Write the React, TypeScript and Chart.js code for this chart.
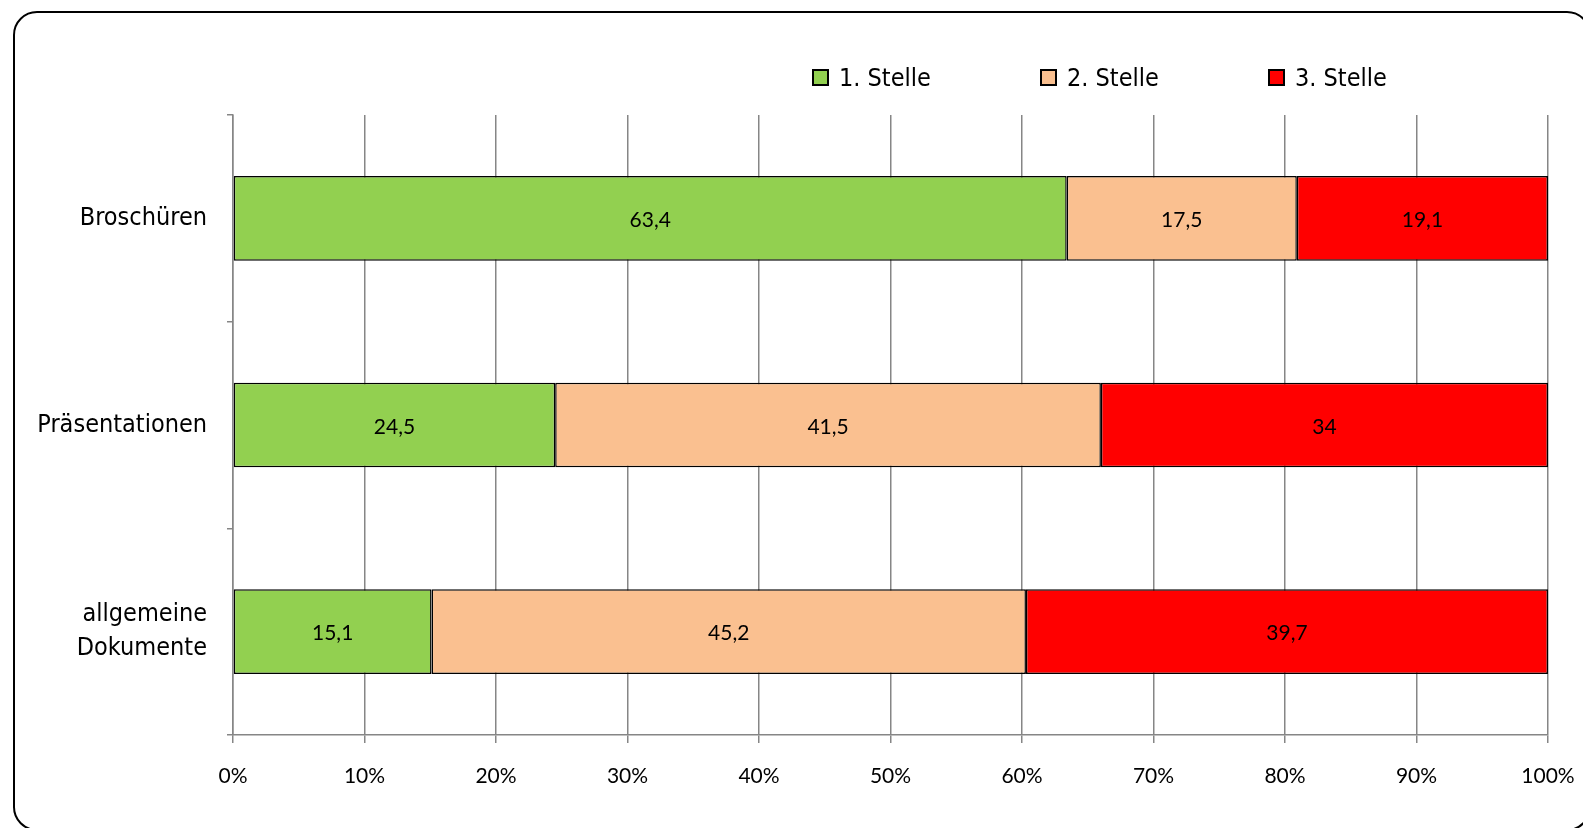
import React, { useEffect, useRef } from "react";
import { Chart, registerables } from "chart.js";

Chart.register(...registerables);

const categories: (string | string[])[] = ["Broschüren", "Präsentationen", ["allgemeine", "Dokumente"]];
const seriesNames = ["1. Stelle", "2. Stelle", "3. Stelle"];
const stelle1 = [63.4, 24.5, 15.1];
const stelle2 = [17.5, 41.5, 45.2];
const stelle3 = [19.1, 34, 39.7];
const colors = ["#92d050", "#fac090", "#ff0000"];
const xTicks = [0, 10, 20, 30, 40, 50, 60, 70, 80, 90, 100];

const narrowFont = '"DejaVu Sans Condensed", "Liberation Sans Narrow", "Noto Sans", sans-serif';
const numFont = 'Lato, "Open Sans", sans-serif';

const W = 1583;
const H = 828;

const labelPlugin = {
  id: "barLabels",
  afterDatasetsDraw(chart: any) {
    const ctx = chart.ctx;
    ctx.save();
    ctx.font = `21px ${numFont}`;
    ctx.fillStyle = "#000";
    ctx.textAlign = "center";
    ctx.textBaseline = "middle";
    chart.data.datasets.forEach((ds: any, i: number) => {
      const meta = chart.getDatasetMeta(i);
      meta.data.forEach((bar: any, j: number) => {
        const v = ds.data[j];
        const cx = (bar.x + bar.base) / 2;
        ctx.fillText(String(v).replace(".", ","), cx, bar.y + 2);
      });
    });
    ctx.restore();
  },
};

export default function App() {
  const ref = useRef<HTMLCanvasElement>(null);

  useEffect(() => {
    document.documentElement.style.overflow = "hidden";
    document.body.style.overflow = "hidden";
    document.body.style.margin = "0";
    if (!ref.current) return;
    const series = [stelle1, stelle2, stelle3];
    const chart = new Chart(ref.current, {
      type: "bar",
      data: {
        labels: categories as any,
        datasets: series.map((d, i) => ({
          label: seriesNames[i],
          data: d,
          backgroundColor: colors[i],
          borderColor: "#000",
          borderWidth: 1.5,
          borderSkipped: false,
          categoryPercentage: 1,
          barPercentage: 0.41,
        })),
      },
      options: {
        indexAxis: "y",
        responsive: false,
        maintainAspectRatio: false,
        animation: false,
        devicePixelRatio: 1,
        layout: { padding: { left: 0, top: 115, right: 35, bottom: 0 } },
        plugins: { legend: { display: false }, tooltip: { enabled: false } },
        scales: {
          x: {
            stacked: true,
            min: 0,
            max: 100,
            afterBuildTicks: (s: any) => {
              s.ticks = xTicks.map((v) => ({ value: v }));
            },
            ticks: {
              callback: (v: any) => v + "%",
              font: { family: numFont, size: 21 },
              color: "#000",
              padding: 21,
              maxRotation: 0,
            },
            grid: { color: "#868686", lineWidth: 1.5, tickLength: 8, drawOnChartArea: true },
            border: { color: "#868686", width: 1.5 },
            afterFit: (s: any) => {
              s.height = 93;
              s.paddingLeft = 0;
              s.paddingRight = 0;
            },
          },
          y: {
            stacked: true,
            ticks: {
              font: { family: narrowFont, size: 25, lineHeight: 1.36 },
              color: "#000",
              padding: 20,
            },
            grid: { offset: true, drawOnChartArea: false, tickLength: 6, color: "#868686", lineWidth: 1.5 },
            border: { color: "#868686", width: 1.5 },
            afterFit: (s: any) => {
              s.width = 233;
              s.paddingTop = 0;
              s.paddingBottom = 0;
            },
          },
        },
      },
      plugins: [labelPlugin],
    });
    return () => chart.destroy();
  }, []);

  const legendX = [812, 1040, 1268];
  return (
    <div style={{ position: "fixed", left: 0, top: 0, width: W, height: H, overflow: "hidden", background: "#fff" }}>
      <div
        style={{
          position: "absolute",
          left: 13,
          top: 11,
          width: 1578,
          height: 820,
          border: "2px solid #000",
          borderRadius: 24,
          boxSizing: "border-box",
        }}
      />
      <canvas ref={ref} width={W} height={H} style={{ position: "absolute", left: 0, top: 0, width: W, height: H }} />
      {seriesNames.map((n, i) => (
        <div
          key={n}
          style={{
            position: "absolute",
            left: legendX[i],
            top: 61,
            height: 32,
            display: "flex",
            alignItems: "center",
            fontFamily: narrowFont,
            fontSize: 25,
            color: "#000",
            whiteSpace: "nowrap",
          }}
        >
          <span
            style={{
              display: "inline-block",
              width: 17,
              height: 17,
              boxSizing: "border-box",
              border: "2px solid #000",
              background: colors[i],
              marginRight: 10,
            }}
          />
          {n}
        </div>
      ))}
    </div>
  );
}
